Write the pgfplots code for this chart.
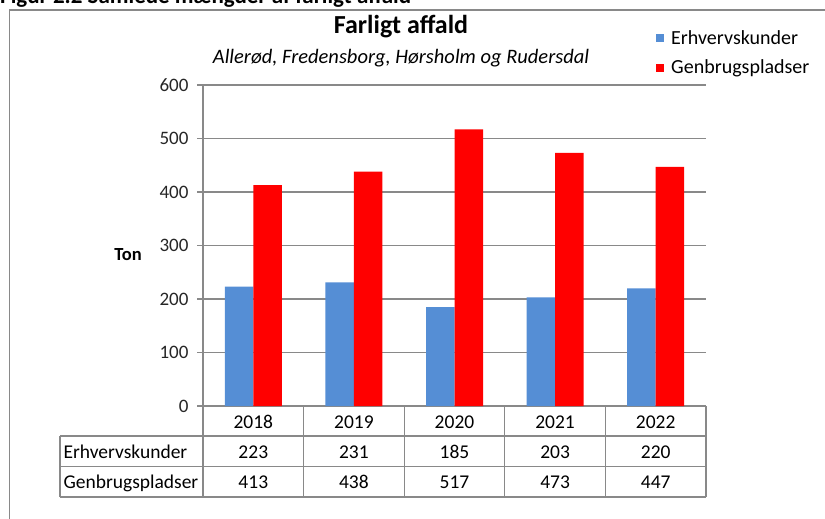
\documentclass[border=0pt]{standalone}
\usepackage{pgfplots}
\usepackage{pgfplotstable}
\pgfplotsset{compat=1.18}
\usepackage{fontspec}
\setmainfont{Carlito}

\definecolor{erhv}{HTML}{558ED5}
\definecolor{genb}{HTML}{FF0000}
\definecolor{linegray}{HTML}{898989}

% index, year, Erhvervskunder, Genbrugspladser (ton)
\pgfplotstableread{
idx year erhv genb
0 2018 223 413
1 2019 231 438
2 2020 185 517
3 2021 203 473
4 2022 220 447
}\datatable

\begin{document}
\begin{tikzpicture}
\useasboundingbox (0pt,0pt) rectangle (825pt,-519pt);

% clipped figure caption at the very top
\node[anchor=base west, inner sep=0pt, font=\fontsize{23}{23}\selectfont\bfseries]
  at (0pt,-4pt) {Figur 2.2 Samlede mængder af farligt affald};

% chart frame (only left and top edges visible)
\draw[linegray, line width=1.2pt] (9.5pt,-540pt) -- (9.5pt,-10pt) -- (840pt,-10pt);

\node[anchor=base, font=\fontsize{26}{26}\selectfont\bfseries] at (401pt,-34pt) {Farligt affald};
\node[anchor=base, font=\fontsize{20.5}{20.5}\selectfont\itshape] at (401pt,-64pt) {Allerød, Fredensborg, Hørsholm og Rudersdal};

\begin{axis}[
  at={(203pt,-406pt)}, anchor=south west,
  scale only axis, width=503pt, height=321pt,
  xmin=-0.5, xmax=4.5, ymin=0, ymax=600,
  ybar=0pt, bar width=28.5pt,
  axis x line*=bottom, axis y line*=left,
  axis line style={draw=linegray, line width=1.2pt},
  xtick=\empty,
  ytick={0,100,...,600},
  ymajorgrids,
  grid style={linegray, line width=1.2pt},
  tick align=outside, major tick length=6pt,
  ytick style={linegray, line width=1.2pt},
  /pgf/number format/assume math mode=true,
  yticklabel style={font=\fontsize{19}{19}\selectfont, text=black!85, xshift=-5pt},
  legend style={at={(axis description cs:0.9006,1.176)}, anchor=north west,
    draw=none, fill=none, font=\fontsize{20}{20}\selectfont,
    row sep=10pt, inner sep=0pt},
  legend cell align=left,
  legend image code/.code={\fill[#1] (0pt,-4pt) rectangle (8pt,4pt); \path (13pt,0pt);},
]
\addplot[fill=erhv, draw=none] table[x=idx, y=erhv] {\datatable};
\addplot[fill=genb, draw=none] table[x=idx, y=genb] {\datatable};
\legend{Erhvervskunder, Genbrugspladser}
\end{axis}

\node[font=\fontsize{18.5}{18.5}\selectfont\bfseries] at (128pt,-255pt) {Ton};

% data table below the axis
\begin{scope}[line width=1.2pt]
  \draw[linegray] (60pt,-436pt) -- (706pt,-436pt);
  \draw[linegray] (60pt,-466.5pt) -- (706pt,-466.5pt);
  \draw[linegray] (60pt,-497pt) -- (706pt,-497pt);
  \draw[linegray] (60pt,-436pt) -- (60pt,-497pt);
  \foreach \k in {0,...,5} {
    \draw[linegray] ({203pt+100.6pt*\k},-406pt) -- ({203pt+100.6pt*\k},-497pt);
  }
\end{scope}
\begin{scope}[font=\fontsize{19.5}{19.5}\selectfont]
  \node[anchor=base west] at (60pt,-458pt) {Erhvervskunder};
  \node[anchor=base west] at (60pt,-488.5pt) {Genbrugspladser};
  \foreach \k in {0,...,4} {
    \pgfplotstablegetelem{\k}{year}\of\datatable \let\vyear\pgfplotsretval
    \pgfplotstablegetelem{\k}{erhv}\of\datatable \let\verhv\pgfplotsretval
    \pgfplotstablegetelem{\k}{genb}\of\datatable \let\vgenb\pgfplotsretval
    \node[anchor=base] at ({253.3pt+100.6pt*\k},-428pt) {\vyear};
    \node[anchor=base] at ({253.3pt+100.6pt*\k},-458pt) {\verhv};
    \node[anchor=base] at ({253.3pt+100.6pt*\k},-488.5pt) {\vgenb};
  }
\end{scope}
\end{tikzpicture}
\end{document}
